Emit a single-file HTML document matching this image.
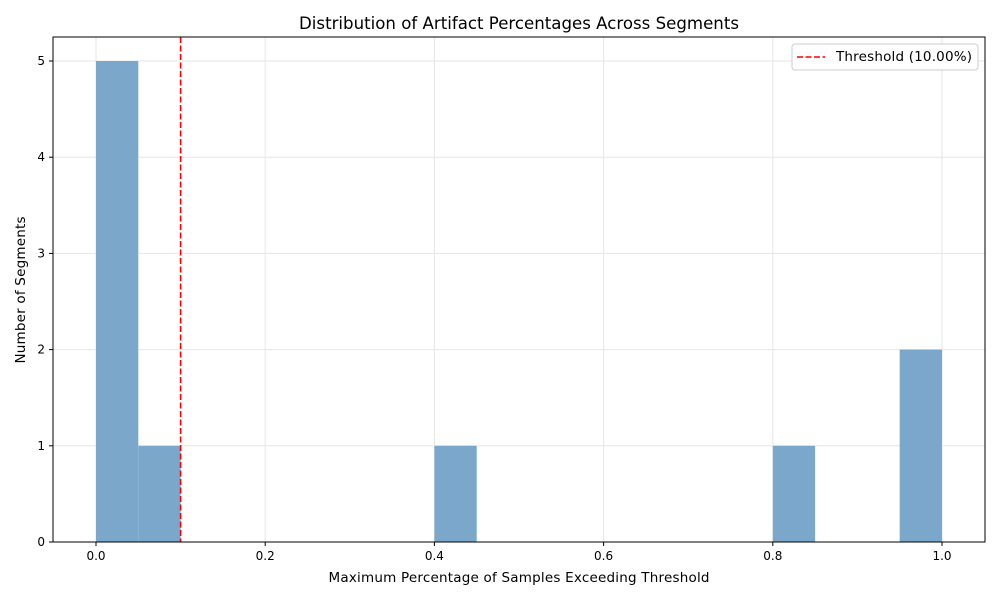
<!DOCTYPE html>
<html><head><meta charset="utf-8"><style>
body{margin:0;background:#fff;font-family:"Liberation Sans","DejaVu Sans",sans-serif}
svg text{font-family:"DejaVu Sans","Liberation Sans",sans-serif}
</style></head><body>
<svg id="chart" width="1000" height="600" xmlns="http://www.w3.org/2000/svg">
<rect width="1000" height="600" fill="#fff"/>
<g id="grid"></g><g id="bars"></g><g id="ticks"></g>
<line id="thr" stroke="#ff0000" stroke-width="1.6" stroke-dasharray="6,2.5"/>
<rect x="53" y="37" width="932" height="505" fill="none" stroke="#000" stroke-width="1"/>
<text x="519" y="29" text-anchor="middle" font-size="16.6" textLength="440">Distribution of Artifact Percentages Across Segments</text>
<text x="519" y="582" text-anchor="middle" font-size="13.5" textLength="381">Maximum Percentage of Samples Exceeding Threshold</text>
<text transform="translate(25,290) rotate(-90)" text-anchor="middle" font-size="13.5" textLength="147">Number of Segments</text>
<g>
<rect x="792" y="44" width="186" height="26" rx="3" fill="#fff" stroke="#ccc"/>
<line x1="797" y1="57" x2="825" y2="57" stroke="#ff0000" stroke-width="1.6" stroke-dasharray="6,2.5"/>
<text x="836" y="61" font-size="13.5" textLength="136">Threshold (10.00%)</text>
</g>
</svg>
<script>
const binStarts=[0,0.05,0.40,0.80,0.95];
const binCounts=[5,1,1,1,2];
const binWidth=0.05;
const xTicks=[0,0.2,0.4,0.6,0.8,1.0];
const xTickLabels=["0.0","0.2","0.4","0.6","0.8","1.0"];
const yTicks=[0,1,2,3,4,5];
const threshold=0.10;
const X=v=>96+v*846, Y=v=>542-v*96.2;
const NS="http://www.w3.org/2000/svg";
function mk(t,a,p){const e=document.createElementNS(NS,t);for(const k in a)e.setAttribute(k,a[k]);p.appendChild(e);return e;}
const g=document.getElementById('grid'),b=document.getElementById('bars'),tk=document.getElementById('ticks');
xTicks.forEach((v,i)=>{
 const l=mk('line',{x1:X(v),x2:X(v),y1:37,y2:542,stroke:'#e6e6e6'},g);
 
 
 mk('line',{x1:X(v),x2:X(v),y1:542,y2:546,stroke:'#000'},tk);
 const t=mk('text',{x:X(v),y:560,'text-anchor':'middle','font-size':12},tk);t.textContent=xTickLabels[i];
 
 
});
yTicks.forEach(v=>{
 const l=mk('line',{x1:53,x2:985,y1:Y(v),y2:Y(v),stroke:'#e6e6e6'},g);
 
 
 mk('line',{x1:49,x2:53,y1:Y(v),y2:Y(v),stroke:'#000'},tk);
 const t=mk('text',{x:45,y:Y(v)+4,'text-anchor':'end','font-size':12},tk);t.textContent=v;
 
 
});
binStarts.forEach((s,i)=>{
 const r=mk('rect',{x:X(s),y:Y(binCounts[i]),width:X(s+binWidth)-X(s),height:Y(0)-Y(binCounts[i]),fill:'#7ba7cb'},b);
 
 
});
const th=document.getElementById('thr');
th.setAttribute('x1',X(threshold));th.setAttribute('x2',X(threshold));th.setAttribute('y1',37);th.setAttribute('y2',542);
</script>
</body></html>
